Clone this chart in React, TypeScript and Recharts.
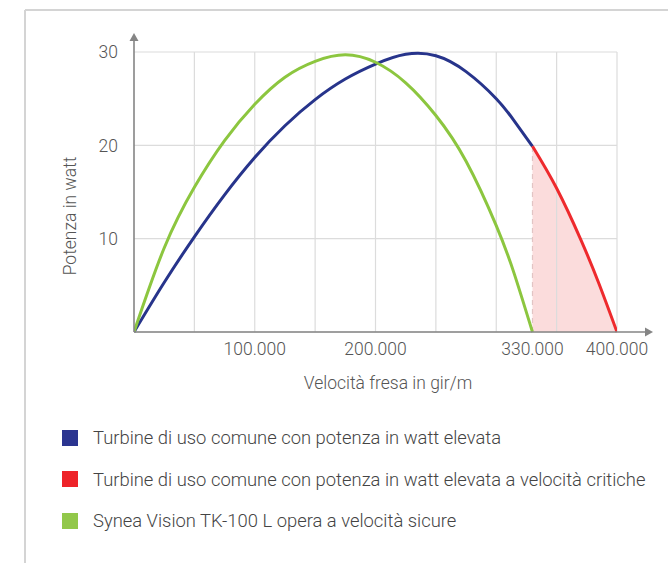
import { ComposedChart, Line, Area, XAxis, YAxis, CartesianGrid, ReferenceLine } from "recharts";

// giri/minuto e potenza
const blueRpm = [0, 25000, 50000, 75000, 100000, 125000, 150000, 175000, 200000, 225000, 250000, 275000, 300000, 315000, 330000];
const bluePower = [0, 5.3, 10.2, 14.7, 18.7, 22.1, 24.9, 27.1, 28.7, 29.75, 29.6, 27.9, 25.0, 22.6, 19.9];

const redRpm = [330000, 350000, 370000, 385000, 400000];
const redPower = [19.9, 15.4, 9.9, 5.2, 0];

const greenRpm = [0, 25000, 50000, 75000, 100000, 125000, 150000, 175000, 200000, 225000, 250000, 275000, 300000, 315000, 330000];
const greenPower = [0, 9.0, 15.5, 20.5, 24.4, 27.3, 29.0, 29.7, 28.9, 26.7, 23.2, 18.3, 11.4, 6.2, 0];

const rpmTicks = [100000, 200000, 330000, 400000];
const rpmGrid = [50000, 100000, 150000, 200000, 250000, 300000, 350000, 400000];
const powerTicks = [10, 20, 30];

const legendItems = [
  { label: "Turbine di uso comune con potenza in watt elevata", color: "#2b3590" },
  { label: "Turbine di uso comune con potenza in watt elevata a velocità critiche", color: "#ee2329" },
  { label: "Synea Vision TK-100 L opera a velocità sicure", color: "#92c84a" },
];

const toPoints = (xs: number[], ys: number[]) => xs.map((x, i) => ({ x, y: ys[i] }));
const blueData = toPoints(blueRpm, bluePower);
const redData = toPoints(redRpm, redPower);
const greenData = toPoints(greenRpm, greenPower);

const fmt = (v: number) => String(v).replace(/\B(?=(\d{3})+(?!\d))/g, ".");

const FONT = "Roboto, 'Liberation Sans', sans-serif";
const CHART_H = 400;
const margin = { top: 52, right: 51, bottom: 38, left: 94 };
const Y_AXIS_W = 40;
const X_AXIS_H = 30;
const plotLeft = margin.left + Y_AXIS_W;
const plotBottom = CHART_H - margin.bottom - X_AXIS_H;
const axisColor = "#858585";
const textColor = "#555";

export default function App() {
  return (
    <div style={{ position: "relative", width: 668, height: 563, background: "#fff", fontFamily: FONT, overflow: "hidden" }}>
      <style>{"body{margin:0}"}</style>
      <ComposedChart width={668} height={CHART_H} margin={margin} style={{ fontFamily: FONT }}>
        <CartesianGrid vertical={false} stroke="#dcdcdc" strokeWidth={1.2} />
        {rpmGrid.map((v) => (
          <ReferenceLine key={v} x={v} stroke="#dcdcdc" strokeWidth={1.2} />
        ))}
        <XAxis
          type="number"
          dataKey="x"
          domain={[0, 400000]}
          ticks={rpmTicks}
          tickFormatter={fmt}
          axisLine={false}
          tickLine={false}
          tickSize={6}
          tickMargin={5}
          height={X_AXIS_H}
          tick={{ fill: textColor, fontSize: 17.5, fontWeight: 300 }}
          allowDataOverflow
        />
        <YAxis
          type="number"
          domain={[0, 30]}
          ticks={powerTicks}
          axisLine={false}
          tickLine={false}
          tickSize={6}
          tickMargin={10}
          width={Y_AXIS_W}
          tick={{ fill: textColor, fontSize: 17.5, fontWeight: 300 }}
        />
        <Area
          data={redData}
          dataKey="y"
          type="natural"
          stroke="none"
          fill="#fbdcdc"
          fillOpacity={1}
          isAnimationActive={false}
        />
        <ReferenceLine
          segment={[
            { x: redRpm[0], y: 0 },
            { x: redRpm[0], y: redPower[0] },
          ]}
          stroke="#e2c4c4"
          strokeDasharray="5 4"
          strokeWidth={1.2}
        />
        <Line data={blueData} dataKey="y" type="natural" stroke="#27348b" strokeWidth={3} dot={false} isAnimationActive={false} />
        <Line data={redData} dataKey="y" type="natural" stroke="#ee2a2d" strokeWidth={3} dot={false} isAnimationActive={false} />
        <Line data={greenData} dataKey="y" type="natural" stroke="#8cc63f" strokeWidth={3} dot={false} isAnimationActive={false} />
      </ComposedChart>

      <svg width={668} height={563} style={{ position: "absolute", left: 0, top: 0, pointerEvents: "none" }}>
        <line x1={25} y1={10} x2={668} y2={10} stroke="#d4d4d4" strokeWidth={2} />
        <line x1={25} y1={10} x2={25} y2={563} stroke="#d4d4d4" strokeWidth={2} />
        <line x1={plotLeft} y1={plotBottom} x2={646} y2={plotBottom} stroke={axisColor} strokeWidth={1.6} />
        <polygon points={`653,${plotBottom} 645,${plotBottom - 4.5} 645,${plotBottom + 4.5}`} fill={axisColor} />
        <line x1={plotLeft} y1={plotBottom} x2={plotLeft} y2={40} stroke={axisColor} strokeWidth={1.6} />
        <polygon points={`${plotLeft},33 ${plotLeft - 4.5},41 ${plotLeft + 4.5},41`} fill={axisColor} />
        <text x={388} y={389} textAnchor="middle" fill={textColor} fontSize={17.5} fontWeight={300} fontFamily={FONT}>
          Velocità fresa in gir/m
        </text>
        <text
          x={70}
          y={216}
          textAnchor="middle"
          dominantBaseline="central"
          transform="rotate(-90 70 216)"
          fill={textColor}
          fontSize={17.5}
          fontWeight={300}
          fontFamily={FONT}
        >
          Potenza in watt
        </text>
      </svg>

      <div style={{ position: "absolute", left: 62, top: 417 }}>
        {legendItems.map((item) => (
          <div key={item.label} style={{ display: "flex", alignItems: "center", height: 41.5 }}>
            <div style={{ width: 16, height: 16, background: item.color, marginRight: 15, flexShrink: 0 }} />
            <span style={{ fontSize: 18.4, fontWeight: 300, color: "#444", whiteSpace: "nowrap" }}>{item.label}</span>
          </div>
        ))}
      </div>
    </div>
  );
}
